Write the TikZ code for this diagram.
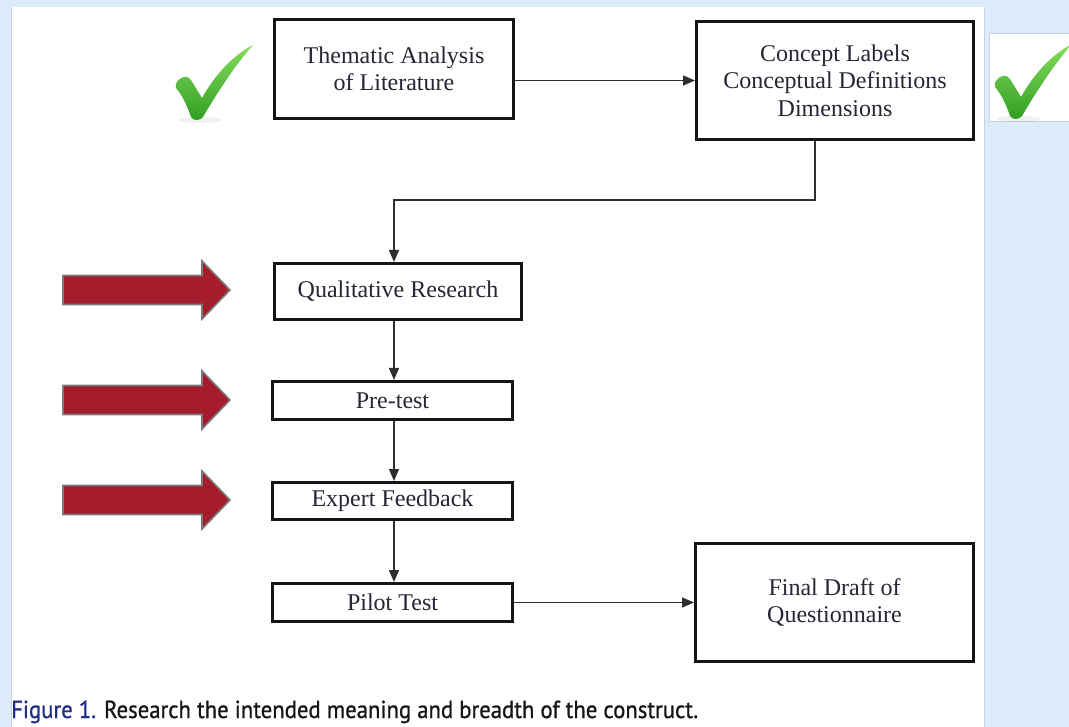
\documentclass[tikz,border=0pt]{standalone}
\usepackage{fontspec}
\setmainfont{Liberation Serif}
\newfontfamily\captionfont[FakeBold=0.9]{PT Sans}
\usetikzlibrary{arrows.meta}

\definecolor{pagebg}{HTML}{DEEBFA}
\definecolor{edgegray}{HTML}{C9D2DC}
\definecolor{boxline}{HTML}{151515}
\definecolor{boxtext}{HTML}{262634}
\definecolor{linkline}{HTML}{2E2E2E}
\definecolor{arrowred}{HTML}{A51C2D}
\definecolor{arrowrim}{HTML}{7A7A7A}
\definecolor{tickhi}{HTML}{86DC5C}
\definecolor{ticklo}{HTML}{2F9E22}
\definecolor{capblue}{HTML}{1F2E86}
\definecolor{captext}{HTML}{161616}

\tikzset{
  stepbox/.style={draw=boxline, line width=3pt, fill=white, inner sep=0pt,
    align=center, font=\fontsize{24}{27.5}\selectfont, text=boxtext},
  link/.style={draw=linkline, line width=1.4pt,
    -{Triangle[length=12pt,width=10pt]}},
  redarrow/.style={fill=arrowred, draw=arrowrim, line width=1.6pt, line join=miter},
  greentick/.pic={
    \fill[black, opacity=0.06] (25,75) ellipse (22 and 3);
    \shade[top color=tickhi, bottom color=ticklo]
      (2,37) .. controls (6,31) and (13,30) .. (16,35)
      -- (27,53)
      .. controls (40,30) and (57,11) .. (78,0)
      .. controls (61,19) and (42,48) .. (28,72)
      .. controls (25,76) and (18,76) .. (16,72)
      .. controls (12,60) and (7,50) .. (1,43)
      .. controls (0,40) and (1,38) .. (2,37) -- cycle;
  }
}

\begin{document}
\begin{tikzpicture}[x=1pt,y=-1pt]
  \useasboundingbox (0,0) rectangle (1069,727);

  % page background and white panels
  \fill[pagebg] (0,0) rectangle (1069,727);
  \fill[white] (11,7) rectangle (984,727);
  \draw[edgegray, line width=1pt] (11,7) -- (11,727);
  \draw[edgegray, line width=1pt] (984,7) -- (984,727);
  \filldraw[fill=white, draw=edgegray, line width=1pt] (989.5,33.5) rectangle (1075,122);

  % ticks
  \pic at (175,45) {greentick};
  \begin{scope}
    \clip (990,34) rectangle (1069,121.5);
    \pic at (994,44) {greentick};
  \end{scope}

  % red pointer arrows
  \foreach \yc in {290,400,500} {
    \path[redarrow] (63,\yc-14.5) -- (202,\yc-14.5) -- (202,\yc-29) -- (230,\yc)
      -- (202,\yc+29) -- (202,\yc+14.5) -- (63,\yc+14.5) -- cycle;
  }

  % process boxes
  \node[stepbox, minimum width=239pt, minimum height=99pt] (thematic) at (394,69)
    {Thematic Analysis\\of Literature};
  \node[stepbox, minimum width=277pt, minimum height=118pt] (concept) at (835,80.5)
    {Concept Labels\\Conceptual Definitions\\Dimensions};
  \node[stepbox, minimum width=247pt, minimum height=56pt] (qual) at (398,291.5)
    {Qualitative Research};
  \node[stepbox, minimum width=240pt, minimum height=38pt] (pretest) at (392.5,400.5)
    {Pre-test};
  \node[stepbox, minimum width=240pt, minimum height=37pt] (expert) at (392.5,501)
    {Expert Feedback};
  \node[stepbox, minimum width=240pt, minimum height=38pt] (pilot) at (392.5,602.5)
    {Pilot Test};
  \node[stepbox, minimum width=278pt, minimum height=118pt] (final) at (834.5,602.5)
    {Final Draft of\\Questionnaire};

  % connectors
  \coordinate (spine) at (394,0);
  \coordinate (drop) at (815,200);
  \draw[link] (thematic.east |- concept.west) -- (concept.west);
  \draw[link] (concept.south -| drop) -- (drop) -- (drop -| spine) -- (qual.north -| spine);
  \draw[link] (qual.south -| spine) -- (pretest.north -| spine);
  \draw[link] (pretest.south -| spine) -- (expert.north -| spine);
  \draw[link] (expert.south -| spine) -- (pilot.north -| spine);
  \draw[link] (pilot.east) -- (final.west |- pilot.east);

  % caption
  \node[anchor=base west, inner sep=0pt] (caption) at (11,718)
    {\resizebox{687pt}{17.5pt}{\captionfont\textcolor{capblue}{Figure 1.}
      \textcolor{captext}{Research the intended meaning and breadth of the construct.}}};
\end{tikzpicture}
\end{document}
